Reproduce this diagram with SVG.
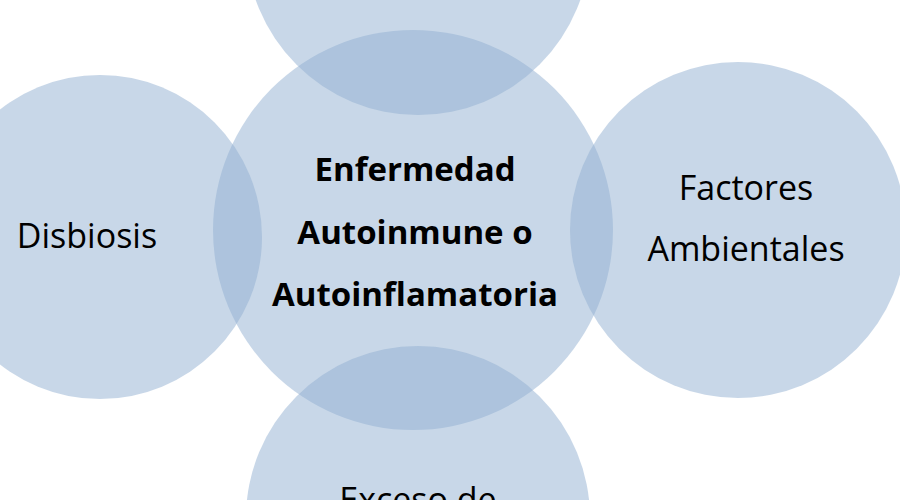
<svg xmlns="http://www.w3.org/2000/svg" width="900" height="500" viewBox="0 0 900 500">
<style>
.c{fill:rgb(145,175,209);fill-opacity:.5}
text{font-family:"Open Sans","Liberation Sans",sans-serif;text-anchor:middle;fill:#000}
.b{font-weight:bold;font-size:33px}
.n{font-size:34px}
</style>
<rect width="900" height="500" fill="#fff"/>
<g id="center"><circle class="c" cx="413" cy="230" r="200"/>
<text class="b" x="415" y="181">Enfermedad</text>
<text class="b" x="415" y="244">Autoinmune o</text>
<text class="b" x="415" y="306">Autoinflamatoria</text></g>
<g id="top"><circle class="c" cx="418" cy="-57" r="172"/></g>
<g id="left"><circle class="c" cx="100" cy="237" r="162"/>
<text class="n" x="87" y="248">Disbiosis</text></g>
<g id="right"><circle class="c" cx="738" cy="230" r="168"/>
<text class="n" x="746" y="200">Factores</text>
<text class="n" x="746" y="261">Ambientales</text></g>
<g id="bottom"><circle class="c" cx="418" cy="518" r="172"/>
<text class="n" x="418" y="512">Exceso de</text></g>
<g id="connectors"/>
</svg>
